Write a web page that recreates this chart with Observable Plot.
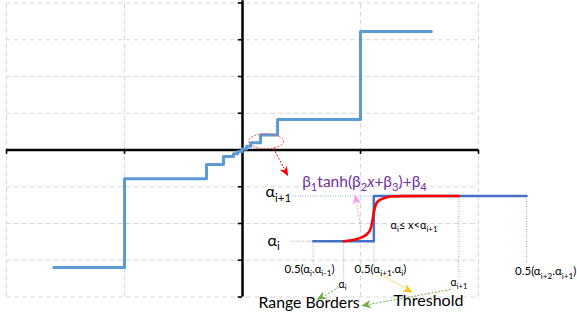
<!DOCTYPE html>
<html>
<head>
<meta charset="utf-8">
<script src="https://cdn.jsdelivr.net/npm/d3@7"></script>
<script src="https://cdn.jsdelivr.net/npm/@observablehq/plot@0.6"></script>
<style>
  html, body { margin: 0; padding: 0; background: #fff; }
  #chart svg { display: block; }
</style>
</head>
<body>
<div id="chart"></div>
<script>
// ---- Data (chart units: x from -2..2, y from -4..4) ----
const gridX = [-2, -1, 1, 2];
const gridY = [-4, -3, -2, -1, 1, 2, 3, 4];
const tickX = [-2, -1, 1, 2];
const tickY = [-4, -3, -2, -1, 1, 2, 3, 4];

// main quantisation staircase (step-after)
const stepX = [-1.6, -1.0, -0.305, -0.161, -0.076, -0.04, -0.005, 0.035, 0.07, 0.153, 0.297, 1.0, 1.6];
const stepY = [-3.2, -0.784, -0.395, -0.177, -0.1, -0.04, 0.03, 0.1, 0.2, 0.41, 0.83, 3.224, 3.224];

// inset: one step of the staircase
const insetX = [0.599, 1.113, 2.407];
const insetY = [-2.482, -1.252, -1.252];

// inset: smooth tanh transition
const tanhX = [0.858, 0.943, 1.014, 1.057, 1.085, 1.099, 1.113, 1.127, 1.155, 1.198, 1.254, 1.339, 1.833];
const tanhY = [-2.482, -2.444, -2.373, -2.280, -2.144, -1.965, -1.693, -1.510, -1.374, -1.312, -1.265, -1.254, -1.252];

// dotted guide lines of the inset [x1, y1, x2, y2]
const guides = [
  [0.424, -1.252, 1.113, -1.252],
  [0.407, -2.482, 0.599, -2.482],
  [0.599, -2.482, 0.599, -3.143],
  [0.858, -2.482, 0.858, -3.633],
  [1.113, -2.482, 1.113, -3.143],
  [1.833, -1.252, 1.833, -3.497],
  [2.407, -1.252, 2.407, -3.088]
];

// annotation arrows: [x1, y1, x2, y2, headX, headY, rotate, color]
const arrows = [
  [0.263, 0.041, 0.352, -0.50, 0.364, -0.585, 150, "#FF0000"],
  [1.000, -2.101, 0.966, -1.40, 0.962, -1.350, -10, "#F29BEF"],
  [1.169, -3.388, 1.385, -3.76, 1.402, -3.810, 121, "#FFC000"],
  [0.814, -3.741, 0.690, -3.975, 0.668, -4.005, 241, "#70AD47"],
  [1.763, -3.796, 1.075, -4.200, 1.051, -4.215, 260, "#70AD47"]
];

// zoom ellipse around the small steps
const ellipse = [{x: 0.200, y: 0.240}];

// labels: text (with _{sub} and *italic* markup), x, y, size, colour, anchor
const labels = [
  ["α_{i+1}", 0.195, -1.143, 16, "#000", "start"],
  ["α_{i}", 0.212, -2.460, 16, "#000", "start"],
  ["0.5(α_{i}.α_{i-1})", 0.568, -3.233, 11.5, "#000", "middle"],
  ["0.5(α_{i+1}.α_{i})", 1.169, -3.233, 11.5, "#000", "middle"],
  ["0.5(α_{i+2}.α_{i+1})", 2.570, -3.309, 11.5, "#000", "middle"],
  ["α_{i}", 0.814, -3.650, 10.5, "#000", "start"],
  ["α_{i+1}", 1.763, -3.610, 10.5, "#000", "start"],
  ["α_{i}≤ x<α_{i+1}", 1.254, -2.049, 11, "#000", "start"],
  ["β_{1}tanh(β_{2}*x*+β_{3})+β_{4}", 0.506, -0.863, 15.5, "#7030A0", "start"],
  ["Range Borders", 0.136, -4.174, 15.8, "#000", "start"],
  ["Threshold", 1.280, -4.100, 16, "#000", "start"]
];

// ---- tables built from the arrays ----
const steps = stepX.map((x, i) => ({x, y: stepY[i]}));
const inset = insetX.map((x, i) => ({x, y: insetY[i]}));
const tanhCurve = tanhX.map((x, i) => ({x, y: tanhY[i]}));
const guideRows = guides.map(([x1, y1, x2, y2]) => ({x1, y1, x2, y2}));
const arrowRows = arrows.map(([x1, y1, x2, y2, hx, hy, rot, color]) => ({x1, y1, x2, y2, hx, hy, rot, color}));

const ellipseSymbol = {
  draw(ctx, size) {
    const r = Math.sqrt(size / Math.PI), rx = r, ry = r * 0.43, k = 0.5523;
    ctx.moveTo(rx, 0);
    ctx.bezierCurveTo(rx, ry * k, rx * k, ry, 0, ry);
    ctx.bezierCurveTo(-rx * k, ry, -rx, ry * k, -rx, 0);
    ctx.bezierCurveTo(-rx, -ry * k, -rx * k, -ry, 0, -ry);
    ctx.bezierCurveTo(rx * k, -ry, rx, -ry * k, rx, 0);
    ctx.closePath();
  }
};
const headSymbol = {
  draw(ctx, size) {
    const r = Math.sqrt(size / Math.PI);
    ctx.moveTo(0, -r);
    ctx.lineTo(r * 0.75, r * 0.8);
    ctx.lineTo(0, r * 0.3);
    ctx.lineTo(-r * 0.75, r * 0.8);
    ctx.closePath();
  }
};

const grid = {stroke: "#D9D9D9", strokeWidth: 1.2, strokeDasharray: "5,3"};

const marks = [
  Plot.ruleX(gridX, {...grid, y1: -4, y2: 4}),
  Plot.ruleY(gridY, {...grid, x1: -2, x2: 2}),
  Plot.ruleY([0], {x1: -2, x2: 2, stroke: "#000", strokeWidth: 2.5}),
  Plot.ruleX([0], {y1: -4, y2: 4.06, stroke: "#000", strokeWidth: 2.5}),
  Plot.ruleX(tickX, {y1: 0, y2: -0.12, stroke: "#000", strokeWidth: 1.6}),
  Plot.ruleY(tickY, {x1: -0.036, x2: 0, stroke: "#000", strokeWidth: 1.6}),
  Plot.line(steps, {x: "x", y: "y", curve: "step-after", stroke: "#5B9BD5", strokeWidth: 3}),
  Plot.dot(ellipse, {x: "x", y: "y", r: 17.5, symbol: ellipseSymbol, fill: "none", stroke: "#E85A5A", strokeWidth: 1, strokeDasharray: "2,1.5"}),
  Plot.link(guideRows, {x1: "x1", y1: "y1", x2: "x2", y2: "y2", stroke: "#8FAADC", strokeWidth: 1, strokeDasharray: "1,1.5"}),
  Plot.line(inset, {x: "x", y: "y", curve: "step-after", stroke: "#4472C4", strokeWidth: 2.5}),
  Plot.line(tanhCurve, {x: "x", y: "y", curve: "monotone-x", stroke: "#FF0000", strokeWidth: 2.6}),
  Plot.link(arrowRows, {x1: "x1", y1: "y1", x2: "x2", y2: "y2", stroke: "color", strokeWidth: 1, strokeDasharray: "2,1.5"}),
  Plot.dot(arrowRows, {x: "hx", y: "hy", r: 5.5, symbol: headSymbol, fill: "color", stroke: "none", rotate: "rot"}),
  ...labels.map(([t, x, y, size, color, anchor]) =>
    Plot.text([{t, x, y}], {x: "x", y: "y", text: "t", fontSize: size, fill: color, textAnchor: anchor}))
];

const chart = Plot.plot({
  width: 577,
  height: 318,
  margin: 0,
  x: {domain: [-2, 2], range: [6, 478], axis: null},
  y: {domain: [-4, 4], range: [296.5, 2.5], axis: null},
  color: {type: "identity"},
  style: {fontFamily: "Lato, 'Open Sans', sans-serif", background: "#fff", overflow: "visible"},
  marks
});
document.getElementById("chart").appendChild(chart);

// convert _{sub} and *italic* markup into tspans
const NS = "http://www.w3.org/2000/svg";
chart.querySelectorAll("text").forEach(t => {
  const s = t.textContent;
  if (!/_\{|\*/.test(s)) return;
  const fs = parseFloat(getComputedStyle(t).fontSize) || 10;
  const shift = fs * 0.28;
  t.textContent = "";
  let shifted = false;
  const re = /_\{([^}]*)\}|\*([^*]*)\*|([^_*]+)/g;
  let m;
  while ((m = re.exec(s))) {
    const ts = document.createElementNS(NS, "tspan");
    if (m[1] !== undefined) {
      ts.setAttribute("font-size", (fs * 0.72).toFixed(2));
      if (!shifted) { ts.setAttribute("dy", shift.toFixed(2)); shifted = true; }
      ts.textContent = m[1];
    } else {
      if (shifted) { ts.setAttribute("dy", (-shift).toFixed(2)); shifted = false; }
      if (m[2] !== undefined) { ts.setAttribute("font-style", "italic"); ts.textContent = m[2]; }
      else ts.textContent = m[3];
    }
    t.appendChild(ts);
  }
});
</script>
</body>
</html>
